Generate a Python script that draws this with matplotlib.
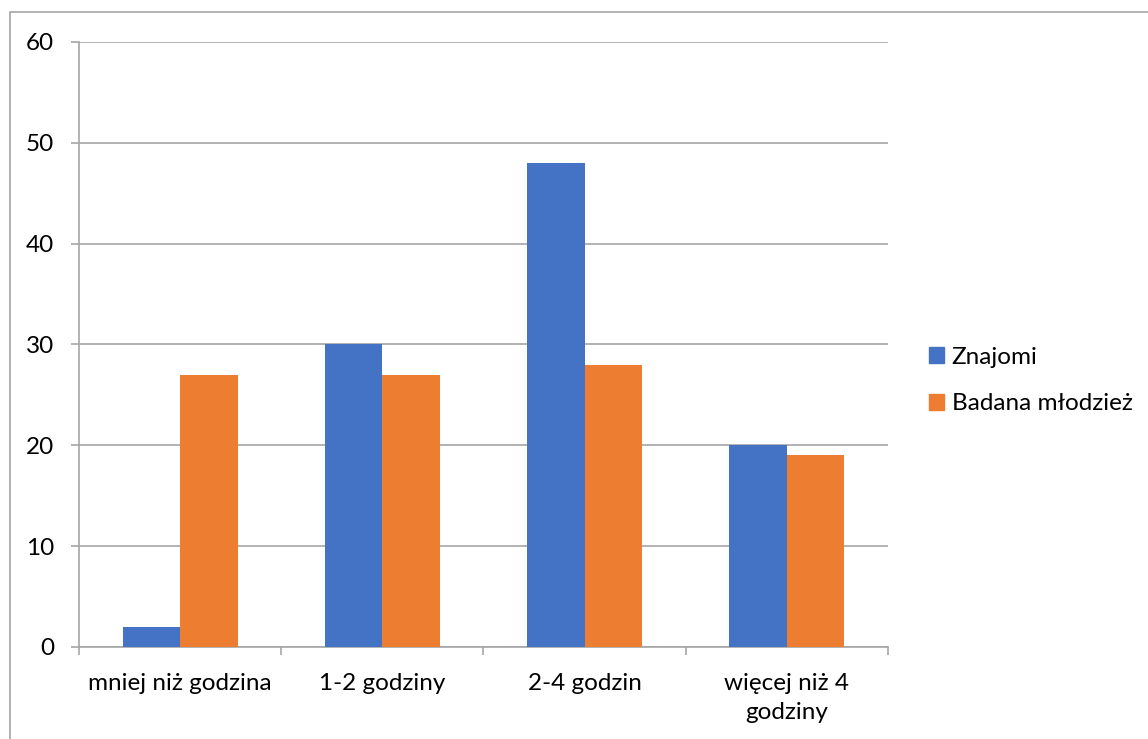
import numpy as np
import matplotlib.pyplot as plt
from matplotlib.patches import Rectangle, Patch

# dane
kategorie = ['mniej niż godzina', '1-2 godziny', '2-4 godzin', 'więcej niż 4\ngodziny']
znajomi = [2, 30, 48, 20]
badana = [27, 27, 28, 19]

plt.rcParams['font.family'] = ['Lato', 'DejaVu Sans']
fs = 17.5

fig = plt.figure(figsize=(11.48, 7.39), dpi=100)
ax = fig.add_axes([0.0688, 0.1245, 0.7047, 0.8187])

# ramka wykresu
fig.patches.append(Rectangle((10 / 1148, -0.05), 1.1, 1 - 12 / 739 + 0.05,
                             transform=fig.transFigure, fill=False,
                             edgecolor='#a6a6a6', linewidth=1.2))

x = np.arange(len(kategorie))
w = 0.284
ax.bar(x - w / 2, znajomi, w, color='#4472C4', zorder=3)
ax.bar(x + w / 2, badana, w, color='#ED7D31', zorder=3)

ax.set_xlim(-0.5, 3.5)
ax.set_ylim(0, 60)
ax.set_yticks(range(0, 61, 10))
ax.yaxis.grid(True, color='#a6a6a6', linewidth=1.2, zorder=0)
ax.tick_params(axis='y', length=6, color='#a6a6a6', width=1.2, labelsize=fs, pad=12)

ax.set_xticks(x)
ax.set_xticklabels(kategorie, fontsize=fs, linespacing=1.45)
ax.tick_params(axis='x', length=0, pad=19)
ax.set_xticks(np.arange(-0.5, 4, 1), minor=True)
ax.tick_params(axis='x', which='minor', length=6, color='#a6a6a6', width=1.2)

for s in ['top', 'right']:
    ax.spines[s].set_visible(False)
for s in ['left', 'bottom']:
    ax.spines[s].set_color('#a6a6a6')
    ax.spines[s].set_linewidth(1.2)

uchwyty = [Patch(color='#4472C4', label='Znajomi'),
           Patch(color='#ED7D31', label='Badana młodzież')]
fig.legend(handles=uchwyty, loc='center left', bbox_to_anchor=(0.7903, 0.485),
           frameon=False, fontsize=fs, handlelength=0.62, handleheight=0.62,
           handletextpad=0.3, labelspacing=1.05)

plt.savefig('out.png', dpi=100)
